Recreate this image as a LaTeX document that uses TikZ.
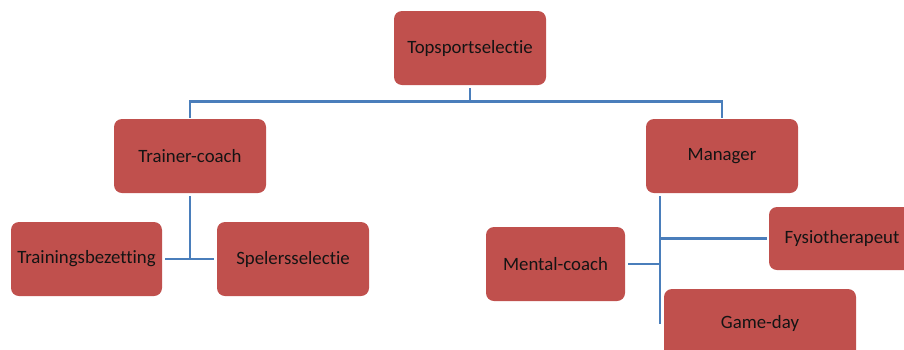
\documentclass[tikz,border=0pt]{standalone}
\usepackage{fontspec}
\setmainfont[Ligatures=CommonOff]{Carlito}
\definecolor{boxred}{HTML}{C0504D}
\definecolor{lineblue}{HTML}{4A7EBB}
\definecolor{txt}{HTML}{141414}
\begin{document}
\begin{tikzpicture}[x=1pt,y=-1pt,
  orgbox/.style={rectangle, rounded corners=8pt, fill=boxred, inner sep=0pt,
    minimum width=152pt, minimum height=74pt, text=txt, font=\fontsize{18.8}{21}\selectfont},
  link/.style={draw=lineblue, line width=2.6pt}]
\useasboundingbox (0,0) rectangle (904,349);
\begin{scope}
\clip (0,0) rectangle (904,349);
\node[orgbox] (top) at (470,48) {Topsportselectie};
\node[orgbox] (tc) at (190,156) {Trainer-coach};
\node[orgbox] (mg) at (722,156) {Manager};
\node[orgbox, minimum width=151pt] (tb) at (86.5,259) {Trainingsbezetting};
\node[orgbox] (ss) at (293,259) {Spelersselectie};
\node[orgbox, minimum width=139pt] (mc) at (555.5,264) {Mental-coach};
\node[orgbox, minimum width=146pt, minimum height=63pt] (fy) at (842,238.5) {Fysiotherapeut};
\node[orgbox, minimum width=192pt] (gd) at (760,326) {};
\node[text=txt] (gdt) at (760,323) {\fontsize{18.8}{21}\selectfont Game-day};
\end{scope}
% top level
\draw[link] ([yshift=-3pt]top.south) -- ++(0,13) coordinate (j0);
\draw[link] ([yshift=1pt]tc.north) |- (j0) -| ([yshift=1pt]mg.north);
% trainer-coach branch
\draw[link] ([yshift=-3pt]tc.south) -- (tc.south |- tb.east);
\draw[link] ([xshift=3pt]tb.east) -- ([xshift=-3pt]ss.west);
% manager branch
\draw[link] ([xshift=14pt,yshift=-3pt]mg.south west) -- ++(0,128) coordinate (mvb);
\draw[link] ([xshift=3pt]mc.east) -- (mc.east -| mvb);
\draw[link] (fy.west -| mvb) -- ([xshift=-2pt]fy.west);
\end{tikzpicture}
\end{document}
